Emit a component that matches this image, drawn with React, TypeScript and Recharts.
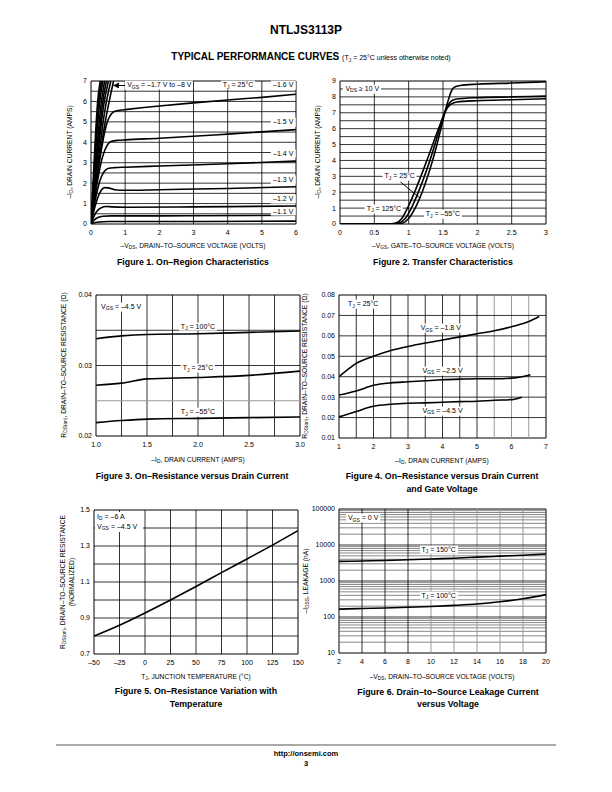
import React from 'react';
import { LineChart, Line, XAxis, YAxis, ReferenceLine, ReferenceArea } from 'recharts';

const FONT = '"Liberation Sans", Arial, Helvetica, sans-serif';

type Pt = { x: number; y: number };
interface Geo { left: number; top: number; w: number; h: number; x0: number; x1: number; y0: number; y1: number; log?: boolean }

// ---------- Figure 1: on-region characteristics
const fig1XTicks = [0, 1, 2, 3, 4, 5, 6];
const fig1YTicks = [0, 1, 2, 3, 4, 5, 6, 7];
const fig1VGrid = [1, 2, 3, 4, 5];
const fig1HGrid = [0.5, 1, 1.5, 2, 2.5, 3, 3.5, 4, 4.5, 5, 5.5, 6, 6.5];
const fig1Vgs10: Pt[] = [{ x: 0, y: 0 }, { x: 0.1, y: 0.06 }, { x: 0.25, y: 0.1 }, { x: 0.5, y: 0.12 }, { x: 2, y: 0.12 }, { x: 6, y: 0.14 }];
const fig1Vgs11: Pt[] = [{ x: 0, y: 0 }, { x: 0.1, y: 0.2 }, { x: 0.2, y: 0.32 }, { x: 0.35, y: 0.38 }, { x: 0.6, y: 0.4 }, { x: 2, y: 0.4 }, { x: 6, y: 0.43 }];
const fig1Vgs12: Pt[] = [{ x: 0, y: 0 }, { x: 0.1, y: 0.42 }, { x: 0.2, y: 0.68 }, { x: 0.3, y: 0.8 }, { x: 0.45, y: 0.86 }, { x: 0.6, y: 0.84 }, { x: 1, y: 0.82 }, { x: 3, y: 0.84 }, { x: 6, y: 0.88 }];
const fig1Vgs13: Pt[] = [{ x: 0, y: 0 }, { x: 0.1, y: 0.75 }, { x: 0.2, y: 1.3 }, { x: 0.3, y: 1.65 }, { x: 0.4, y: 1.78 }, { x: 0.5, y: 1.77 }, { x: 0.7, y: 1.68 }, { x: 1, y: 1.65 }, { x: 2, y: 1.68 }, { x: 4, y: 1.74 }, { x: 6, y: 1.82 }];
const fig1Vgs14: Pt[] = [{ x: 0, y: 0 }, { x: 0.1, y: 0.95 }, { x: 0.2, y: 1.75 }, { x: 0.3, y: 2.3 }, { x: 0.4, y: 2.6 }, { x: 0.5, y: 2.72 }, { x: 0.7, y: 2.76 }, { x: 1, y: 2.78 }, { x: 2, y: 2.84 }, { x: 4, y: 2.95 }, { x: 6, y: 3.08 }];
const fig1Vgs15: Pt[] = [{ x: 0, y: 0 }, { x: 0.1, y: 1.15 }, { x: 0.2, y: 2.2 }, { x: 0.3, y: 3.05 }, { x: 0.4, y: 3.6 }, { x: 0.5, y: 3.92 }, { x: 0.6, y: 4.05 }, { x: 0.8, y: 4.1 }, { x: 1, y: 4.12 }, { x: 2, y: 4.2 }, { x: 4, y: 4.4 }, { x: 6, y: 4.62 }];
const fig1Vgs16: Pt[] = [{ x: 0, y: 0 }, { x: 0.1, y: 1.3 }, { x: 0.2, y: 2.55 }, { x: 0.3, y: 3.6 }, { x: 0.4, y: 4.5 }, { x: 0.5, y: 5.1 }, { x: 0.6, y: 5.4 }, { x: 0.7, y: 5.52 }, { x: 0.9, y: 5.58 }, { x: 1, y: 5.6 }, { x: 2, y: 5.78 }, { x: 3, y: 5.93 }, { x: 4, y: 6.07 }, { x: 5, y: 6.2 }, { x: 6, y: 6.35 }];
const fig1Vgs17: Pt[] = [{ x: 0, y: 0 }, { x: 0.15, y: 2.0 }, { x: 0.3, y: 3.8 }, { x: 0.45, y: 5.3 }, { x: 0.66, y: 7 }];
const fig1Vgs18: Pt[] = [{ x: 0, y: 0 }, { x: 0.14, y: 2.1 }, { x: 0.27, y: 3.9 }, { x: 0.4, y: 5.5 }, { x: 0.58, y: 7 }];
const fig1Vgs20: Pt[] = [{ x: 0, y: 0 }, { x: 0.12, y: 2.1 }, { x: 0.24, y: 4.0 }, { x: 0.36, y: 5.7 }, { x: 0.51, y: 7 }];
const fig1Vgs25: Pt[] = [{ x: 0, y: 0 }, { x: 0.11, y: 2.2 }, { x: 0.22, y: 4.1 }, { x: 0.32, y: 5.7 }, { x: 0.45, y: 7 }];
const fig1Vgs30: Pt[] = [{ x: 0, y: 0 }, { x: 0.1, y: 2.2 }, { x: 0.2, y: 4.2 }, { x: 0.29, y: 5.8 }, { x: 0.4, y: 7 }];
const fig1Vgs45: Pt[] = [{ x: 0, y: 0 }, { x: 0.09, y: 2.3 }, { x: 0.17, y: 4.3 }, { x: 0.25, y: 5.9 }, { x: 0.35, y: 7 }];
const fig1Vgs60: Pt[] = [{ x: 0, y: 0 }, { x: 0.08, y: 2.3 }, { x: 0.15, y: 4.3 }, { x: 0.22, y: 5.9 }, { x: 0.31, y: 7 }];
const fig1Vgs80: Pt[] = [{ x: 0, y: 0 }, { x: 0.07, y: 2.3 }, { x: 0.13, y: 4.3 }, { x: 0.19, y: 5.9 }, { x: 0.27, y: 7 }];

// ---------- Figure 2: transfer characteristics
const fig2XTicks = [0, 0.5, 1, 1.5, 2, 2.5, 3];
const fig2YTicks = [0, 1, 2, 3, 4, 5, 6, 7, 8, 9];
const fig2VGrid = [0.5, 1, 1.5, 2, 2.5];
const fig2HGrid = [0.5, 1, 1.5, 2, 2.5, 3, 3.5, 4, 4.5, 5, 5.5, 6, 6.5, 7, 7.5, 8, 8.5];
const fig2Tj125: Pt[] = [{ x: 0, y: 0 }, { x: 0.7, y: 0 }, { x: 0.8, y: 0.04 }, { x: 0.9, y: 0.35 }, { x: 1.0, y: 1.15 }, { x: 1.1, y: 2.15 }, { x: 1.2, y: 3.25 }, { x: 1.3, y: 4.4 }, { x: 1.4, y: 5.6 }, { x: 1.47, y: 6.4 }, { x: 1.52, y: 6.95 }, { x: 1.57, y: 7.35 }, { x: 1.62, y: 7.55 }, { x: 1.7, y: 7.68 }, { x: 2.0, y: 7.76 }, { x: 2.5, y: 7.82 }, { x: 3.0, y: 7.88 }];
const fig2Tj25: Pt[] = [{ x: 0, y: 0 }, { x: 0.75, y: 0 }, { x: 0.85, y: 0.04 }, { x: 0.95, y: 0.35 }, { x: 1.05, y: 1.1 }, { x: 1.15, y: 2.1 }, { x: 1.25, y: 3.25 }, { x: 1.35, y: 4.55 }, { x: 1.45, y: 6.0 }, { x: 1.5, y: 6.7 }, { x: 1.55, y: 7.3 }, { x: 1.6, y: 7.65 }, { x: 1.68, y: 7.85 }, { x: 2.0, y: 7.95 }, { x: 2.5, y: 8.0 }, { x: 3.0, y: 8.05 }];
const fig2TjM55: Pt[] = [{ x: 0, y: 0 }, { x: 0.8, y: 0 }, { x: 0.9, y: 0.04 }, { x: 1.0, y: 0.35 }, { x: 1.1, y: 1.05 }, { x: 1.2, y: 2.05 }, { x: 1.3, y: 3.3 }, { x: 1.4, y: 4.8 }, { x: 1.47, y: 6.0 }, { x: 1.52, y: 6.9 }, { x: 1.57, y: 7.7 }, { x: 1.62, y: 8.35 }, { x: 1.66, y: 8.6 }, { x: 1.75, y: 8.72 }, { x: 2.0, y: 8.8 }, { x: 2.5, y: 8.87 }, { x: 3.0, y: 8.95 }];

// ---------- Figure 3: on-resistance vs drain current
const fig3XTicks = [1, 1.5, 2, 2.5, 3];
const fig3YTicks = [0.02, 0.03, 0.04];
const fig3VGrid = [1.25, 1.5, 1.75, 2, 2.25, 2.5, 2.75];
const fig3HGrid = [0.03, 0.035];
const fig3HGray = [0.025];
const fig3Tj100: Pt[] = [{ x: 1, y: 0.0338 }, { x: 1.25, y: 0.0342 }, { x: 1.5, y: 0.0344 }, { x: 2, y: 0.0345 }, { x: 2.5, y: 0.0347 }, { x: 3, y: 0.0349 }];
const fig3Tj25: Pt[] = [{ x: 1, y: 0.0272 }, { x: 1.25, y: 0.0275 }, { x: 1.5, y: 0.0281 }, { x: 2, y: 0.0283 }, { x: 2.5, y: 0.0286 }, { x: 3, y: 0.0292 }];
const fig3TjM55: Pt[] = [{ x: 1, y: 0.0219 }, { x: 1.25, y: 0.0222 }, { x: 1.5, y: 0.0224 }, { x: 2, y: 0.0225 }, { x: 2.5, y: 0.0226 }, { x: 3, y: 0.0227 }];

// ---------- Figure 4: on-resistance vs drain current and gate voltage
const fig4XTicks = [1, 2, 3, 4, 5, 6, 7];
const fig4YTicks = [0.01, 0.02, 0.03, 0.04, 0.05, 0.06, 0.07, 0.08];
const fig4VGrid = [1.5, 2, 2.5, 3, 3.5, 4, 4.5, 5];
const fig4VGray = [5.5, 6, 6.5];
const fig4HGrid = [0.02, 0.03, 0.04, 0.05, 0.06, 0.07];
const fig4Vgs18: Pt[] = [{ x: 1, y: 0.04 }, { x: 1.25, y: 0.0435 }, { x: 1.5, y: 0.0465 }, { x: 2, y: 0.05 }, { x: 2.5, y: 0.0528 }, { x: 3, y: 0.0548 }, { x: 3.5, y: 0.0565 }, { x: 4, y: 0.058 }, { x: 4.5, y: 0.0595 }, { x: 5, y: 0.061 }, { x: 5.5, y: 0.0625 }, { x: 6, y: 0.0645 }, { x: 6.5, y: 0.067 }, { x: 6.8, y: 0.0695 }];
const fig4Vgs25: Pt[] = [{ x: 1, y: 0.031 }, { x: 1.5, y: 0.033 }, { x: 2, y: 0.0358 }, { x: 2.5, y: 0.037 }, { x: 3, y: 0.0375 }, { x: 3.5, y: 0.038 }, { x: 4, y: 0.0385 }, { x: 4.5, y: 0.0388 }, { x: 5, y: 0.039 }, { x: 5.5, y: 0.039 }, { x: 6, y: 0.0393 }, { x: 6.3, y: 0.04 }, { x: 6.55, y: 0.041 }];
const fig4Vgs45: Pt[] = [{ x: 1, y: 0.0203 }, { x: 1.5, y: 0.023 }, { x: 2, y: 0.0255 }, { x: 2.5, y: 0.0265 }, { x: 3, y: 0.027 }, { x: 3.5, y: 0.0272 }, { x: 4, y: 0.0275 }, { x: 4.5, y: 0.0278 }, { x: 5, y: 0.028 }, { x: 5.5, y: 0.0285 }, { x: 6, y: 0.0288 }, { x: 6.3, y: 0.03 }];

// ---------- Figure 5: on-resistance vs temperature
const fig5XTicks = [-50, -25, 0, 25, 50, 75, 100, 125, 150];
const fig5YTicks = [0.7, 0.9, 1.1, 1.3, 1.5];
const fig5VGrid = [-25, 0, 25, 50, 75, 100, 125];
const fig5HGrid = [0.8, 0.9, 1.0, 1.1, 1.2, 1.3, 1.4];
const fig5Rds: Pt[] = [{ x: -50, y: 0.8 }, { x: -25, y: 0.86 }, { x: 0, y: 0.928 }, { x: 25, y: 1.0 }, { x: 50, y: 1.075 }, { x: 75, y: 1.152 }, { x: 100, y: 1.228 }, { x: 125, y: 1.305 }, { x: 150, y: 1.385 }];

// ---------- Figure 6: drain-to-source leakage
const fig6XTicks = [2, 4, 6, 8, 10, 12, 14, 16, 18, 20];
const fig6YTicks = [10, 100, 1000, 10000, 100000];
const fig6VGrid = [4, 6, 8];
const fig6VGray = [10, 12, 14, 16, 18];
const fig6Decades = [10, 100, 1000, 10000];
const fig6Mult = [2, 3, 4, 5, 6, 7, 8, 9];
const fig6HMajor = [100, 1000, 10000];
const fig6HMinor = fig6Decades.flatMap((d) => fig6Mult.map((m) => d * m));
const fig6Tj150: Pt[] = [{ x: 2, y: 3500 }, { x: 4, y: 3600 }, { x: 6, y: 3700 }, { x: 8, y: 3900 }, { x: 10, y: 4100 }, { x: 12, y: 4300 }, { x: 14, y: 4600 }, { x: 16, y: 4900 }, { x: 18, y: 5200 }, { x: 20, y: 5600 }];
const fig6Tj100: Pt[] = [{ x: 2, y: 165 }, { x: 4, y: 172 }, { x: 6, y: 178 }, { x: 8, y: 186 }, { x: 10, y: 195 }, { x: 12, y: 210 }, { x: 14, y: 230 }, { x: 16, y: 265 }, { x: 18, y: 320 }, { x: 20, y: 420 }];

const g1: Geo = { left: 91, top: 81, w: 205, h: 143, x0: 0, x1: 6, y0: 0, y1: 7 };
const g2: Geo = { left: 340, top: 81, w: 206, h: 143, x0: 0, x1: 3, y0: 0, y1: 9 };
const g3: Geo = { left: 96, top: 295, w: 204, h: 141, x0: 1, x1: 3, y0: 0.02, y1: 0.04 };
const g4: Geo = { left: 339, top: 295, w: 207, h: 143, x0: 1, x1: 7, y0: 0.01, y1: 0.08 };
const g5: Geo = { left: 94, top: 510, w: 204, h: 144, x0: -50, x1: 150, y0: 0.7, y1: 1.5 };
const g6: Geo = { left: 339, top: 509, w: 207, h: 144, x0: 2, x1: 20, y0: 10, y1: 100000, log: true };

const CAP = 8.8;
const AX = 6.7;

const dash = (v: number) => (v < 0 ? '\u2013' + Math.abs(v) : String(v));

function px(g: Geo, x: number, y: number) {
  const left = g.left + ((x - g.x0) / (g.x1 - g.x0)) * g.w;
  const t = g.log
    ? (Math.log10(g.y1) - Math.log10(y)) / (Math.log10(g.y1) - Math.log10(g.y0))
    : (g.y1 - y) / (g.y1 - g.y0);
  return { left, top: g.top + t * g.h };
}

const Sub = ({ c }: { c: string }) => (
  <span style={{ fontSize: '0.72em', position: 'relative', top: '0.3em' }}>{c}</span>
);

function Note({ g, x, y, anchor = 'start', children, size = 7 }: { g: Geo; x: number; y: number; anchor?: string; children: React.ReactNode; size?: number }) {
  const p = px(g, x, y);
  const tx = anchor === 'start' ? 0 : anchor === 'end' ? -100 : -50;
  return (
    <div style={{ position: 'absolute', left: p.left, top: p.top, transform: `translate(${tx}%, -50%)`, fontSize: size, lineHeight: 1.25, whiteSpace: 'nowrap', background: '#fff', padding: '0 2px' }}>
      {children}
    </div>
  );
}

function Txt({ x, y, size = AX, bold, children }: { x: number; y: number; size?: number; bold?: boolean; children: React.ReactNode }) {
  return (
    <div style={{ position: 'absolute', left: x, top: y, transform: 'translate(-50%, -50%)', fontSize: size, fontWeight: bold ? 700 : 400, whiteSpace: 'nowrap', lineHeight: 1.2, textAlign: 'center' }}>
      {children}
    </div>
  );
}

function VTxt({ x, y, size = AX, children }: { x: number; y: number; size?: number; children: React.ReactNode }) {
  return (
    <div style={{ position: 'absolute', left: x, top: y, transform: 'translate(-50%, -50%) rotate(-90deg)', fontSize: size, whiteSpace: 'nowrap', lineHeight: 1.2, textAlign: 'center' }}>
      {children}
    </div>
  );
}

interface PanelProps {
  g: Geo;
  xTicks: number[];
  yTicks: number[];
  xFmt?: (v: number) => string;
  yFmt?: (v: number) => string;
  vGrid: number[];
  hGrid: number[];
  vGray?: number[];
  hGray?: number[];
  hMinor?: number[];
  curves: Pt[][];
  extra?: React.ReactNode;
}

function Panel({ g, xTicks, yTicks, xFmt, yFmt, vGrid, hGrid, vGray = [], hGray = [], hMinor = [], curves, extra }: PanelProps) {
  const ML = 50, MT = 6, MR = 6, MB = 16;
  const tick = { fontSize: 7, fill: '#000' };
  return (
    <div style={{ position: 'absolute', left: g.left - ML, top: g.top - MT }}>
      <LineChart width={g.w + ML + MR} height={g.h + MT + MB} margin={{ top: MT, right: MR, left: 0, bottom: 0 }}>
        <defs>
          <marker id="arrowHead" viewBox="0 0 10 10" refX="9" refY="5" markerWidth="6" markerHeight="6" orient="auto-start-reverse">
            <path d="M0,0 L10,5 L0,10 z" fill="#000" />
          </marker>
        </defs>
        <XAxis type="number" dataKey="x" domain={[g.x0, g.x1]} ticks={xTicks} tickFormatter={xFmt} interval={0}
          axisLine={false} tickLine={false} tickSize={4} tickMargin={2} height={MB} tick={tick} allowDataOverflow />
        <YAxis type="number" dataKey="y" scale={g.log ? 'log' : 'linear'} domain={[g.y0, g.y1]} ticks={yTicks} tickFormatter={yFmt} interval={0}
          axisLine={false} tickLine={false} tickSize={3} tickMargin={1} width={ML} tick={tick} allowDataOverflow />
        {hMinor.map((v) => <ReferenceLine key={'m' + v} y={v} stroke="#555" strokeWidth={0.7} />)}
        {vGrid.map((v) => <ReferenceLine key={'v' + v} x={v} stroke="#000" strokeWidth={0.8} />)}
        {vGray.map((v) => <ReferenceLine key={'vg' + v} x={v} stroke="#999" strokeWidth={1} />)}
        {hGrid.map((v) => <ReferenceLine key={'h' + v} y={v} stroke="#000" strokeWidth={0.8} />)}
        {hGray.map((v) => <ReferenceLine key={'hg' + v} y={v} stroke="#999" strokeWidth={1} />)}
        <ReferenceArea x1={g.x0} x2={g.x1} y1={g.y0} y2={g.y1} fill="none" stroke="#000" strokeWidth={1} fillOpacity={0} />
        {curves.map((c, i) => (
          <Line key={i} data={c} dataKey="y" type="monotone" stroke="#000" strokeWidth={1.6} dot={false} isAnimationActive={false} />
        ))}
        {extra}
      </LineChart>
    </div>
  );
}

export default function App() {
  return (
    <div style={{ position: 'absolute', left: 0, top: 0, width: 612, height: 792, background: '#fff', fontFamily: FONT, color: '#000', overflow: 'hidden' }}>
      <Txt x={306} y={30} size={12} bold>NTLJS3113P</Txt>
      <Txt x={311} y={57} size={10} bold>
        TYPICAL PERFORMANCE CURVES <span style={{ fontSize: 7, fontWeight: 400 }}>(T<Sub c="J" /> = 25°C unless otherwise noted)</span>
      </Txt>

      {/* Figure 1 */}
      <Panel g={g1} xTicks={fig1XTicks} yTicks={fig1YTicks} vGrid={fig1VGrid} hGrid={fig1HGrid}
        curves={[fig1Vgs10, fig1Vgs11, fig1Vgs12, fig1Vgs13, fig1Vgs14, fig1Vgs15, fig1Vgs16, fig1Vgs17, fig1Vgs18, fig1Vgs20, fig1Vgs25, fig1Vgs30, fig1Vgs45, fig1Vgs60, fig1Vgs80]}
        extra={<ReferenceLine segment={[{ x: 1.0, y: 6.78 }, { x: 0.66, y: 6.78 }]} stroke="#000" strokeWidth={1} markerEnd="url(#arrowHead)" />} />
      <Note g={g1} x={1.0} y={6.78}>V<Sub c="GS" /> = –1.7 V to –8 V</Note>
      <Note g={g1} x={3.8} y={6.78}>T<Sub c="J" /> = 25°C</Note>
      <Note g={g1} x={5.98} y={6.78} anchor="end">–1.6 V</Note>
      <Note g={g1} x={5.98} y={5.0} anchor="end">–1.5 V</Note>
      <Note g={g1} x={5.98} y={3.45} anchor="end">–1.4 V</Note>
      <Note g={g1} x={5.98} y={2.15} anchor="end">–1.3 V</Note>
      <Note g={g1} x={5.98} y={1.2} anchor="end">–1.2 V</Note>
      <Note g={g1} x={5.98} y={0.6} anchor="end">–1.1 V</Note>
      <VTxt x={70} y={152}>–I<Sub c="D" />, DRAIN CURRENT (AMPS)</VTxt>
      <Txt x={193} y={246}>–V<Sub c="DS" />, DRAIN–TO–SOURCE VOLTAGE (VOLTS)</Txt>
      <Txt x={193} y={262} size={CAP} bold>Figure 1. On–Region Characteristics</Txt>

      {/* Figure 2 */}
      <Panel g={g2} xTicks={fig2XTicks} yTicks={fig2YTicks} vGrid={fig2VGrid} hGrid={fig2HGrid}
        curves={[fig2Tj125, fig2Tj25, fig2TjM55]}
        extra={<ReferenceLine segment={[{ x: 0.88, y: 2.65 }, { x: 1.16, y: 1.65 }]} stroke="#000" strokeWidth={1} />} />
      <Note g={g2} x={0.05} y={8.5}>V<Sub c="DS" /> ≥ 10 V</Note>
      <Note g={g2} x={1.12} y={3.0} anchor="end">T<Sub c="J" /> = 25°C</Note>
      <Note g={g2} x={0.92} y={0.95} anchor="end">T<Sub c="J" /> = 125°C</Note>
      <Note g={g2} x={1.22} y={0.6}>T<Sub c="J" /> = –55°C</Note>
      <VTxt x={318} y={152}>–I<Sub c="D" />, DRAIN CURRENT (AMPS)</VTxt>
      <Txt x={443} y={246}>–V<Sub c="GS" />, GATE–TO–SOURCE VOLTAGE (VOLTS)</Txt>
      <Txt x={443} y={262} size={CAP} bold>Figure 2. Transfer Characteristics</Txt>

      {/* Figure 3 */}
      <Panel g={g3} xTicks={fig3XTicks} yTicks={fig3YTicks} xFmt={(v) => v.toFixed(1)} yFmt={(v) => v.toFixed(2)}
        vGrid={fig3VGrid} hGrid={fig3HGrid} hGray={fig3HGray} curves={[fig3Tj100, fig3Tj25, fig3TjM55]} />
      <Note g={g3} x={1.03} y={0.0383}>V<Sub c="GS" /> = –4.5 V</Note>
      <Note g={g3} x={2.0} y={0.0355} anchor="middle">T<Sub c="J" /> = 100°C</Note>
      <Note g={g3} x={2.0} y={0.0296} anchor="middle">T<Sub c="J" /> = 25°C</Note>
      <Note g={g3} x={2.0} y={0.0234} anchor="middle">T<Sub c="J" /> = –55°C</Note>
      <VTxt x={64} y={365}>R<Sub c="DS(on)" />, DRAIN–TO–SOURCE RESISTANCE (Ω)</VTxt>
      <Txt x={198} y={460}>–I<Sub c="D" />, DRAIN CURRENT (AMPS)</Txt>
      <Txt x={192} y={476} size={CAP} bold>Figure 3. On–Resistance versus Drain Current</Txt>

      {/* Figure 4 */}
      <Panel g={g4} xTicks={fig4XTicks} yTicks={fig4YTicks} yFmt={(v) => v.toFixed(2)}
        vGrid={fig4VGrid} vGray={fig4VGray} hGrid={fig4HGrid} curves={[fig4Vgs18, fig4Vgs25, fig4Vgs45]} />
      <Note g={g4} x={1.2} y={0.0755}>T<Sub c="J" /> = 25°C</Note>
      <Note g={g4} x={3.95} y={0.0637} anchor="middle">V<Sub c="GS" /> = –1.8 V</Note>
      <Note g={g4} x={4.0} y={0.0429} anchor="middle">V<Sub c="GS" /> = –2.5 V</Note>
      <Note g={g4} x={4.0} y={0.0233} anchor="middle">V<Sub c="GS" /> = –4.5 V</Note>
      <VTxt x={305} y={366}>R<Sub c="DS(on)" />, DRAIN–TO–SOURCE RESISTANCE (Ω)</VTxt>
      <Txt x={442} y={461}>–I<Sub c="D" />, DRAIN CURRENT (AMPS)</Txt>
      <Txt x={442} y={476} size={CAP} bold>Figure 4. On–Resistance versus Drain Current</Txt>
      <Txt x={442} y={489} size={CAP} bold>and Gate Voltage</Txt>

      {/* Figure 5 */}
      <Panel g={g5} xTicks={fig5XTicks} yTicks={fig5YTicks} xFmt={dash} yFmt={(v) => v.toFixed(1)}
        vGrid={fig5VGrid} hGrid={fig5HGrid} curves={[fig5Rds]} />
      <div style={{ position: 'absolute', left: px(g5, -49, 1.49).left, top: px(g5, -49, 1.49).top, background: '#fff', fontSize: 7, lineHeight: 1.4, padding: '0 6px 1px 2px' }}>
        <div>I<Sub c="D" /> = –6 A</div>
        <div>V<Sub c="GS" /> = –4.5 V</div>
      </div>
      <VTxt x={63} y={582}>R<Sub c="DS(on)" />, DRAIN–TO–SOURCE RESISTANCE</VTxt>
      <VTxt x={72} y={582}>(NORMALIZED)</VTxt>
      <Txt x={196} y={677}>T<Sub c="J" />, JUNCTION TEMPERATURE (°C)</Txt>
      <Txt x={196} y={691} size={CAP} bold>Figure 5. On–Resistance Variation with</Txt>
      <Txt x={196} y={704} size={CAP} bold>Temperature</Txt>

      {/* Figure 6 */}
      <Panel g={g6} xTicks={fig6XTicks} yTicks={fig6YTicks} vGrid={fig6VGrid} vGray={fig6VGray} hGrid={fig6HMajor} hMinor={fig6HMinor}
        curves={[fig6Tj150, fig6Tj100]} />
      <Note g={g6} x={2.6} y={56000}>V<Sub c="GS" /> = 0 V</Note>
      <Note g={g6} x={9.0} y={7400}>T<Sub c="J" /> = 150°C</Note>
      <Note g={g6} x={9.0} y={390}>T<Sub c="J" /> = 100°C</Note>
      <VTxt x={306} y={581}>–I<Sub c="DSS" />, LEAKAGE (nA)</VTxt>
      <Txt x={442} y={677}>–V<Sub c="DS" />, DRAIN–TO–SOURCE VOLTAGE (VOLTS)</Txt>
      <Txt x={448} y={692} size={CAP} bold>Figure 6. Drain–to–Source Leakage Current</Txt>
      <Txt x={448} y={704} size={CAP} bold>versus Voltage</Txt>

      <div style={{ position: 'absolute', left: 56, top: 744, width: 500, height: 2, background: '#aaa' }} />
      <Txt x={306} y={753} size={7.5} bold>http://onsemi.com</Txt>
      <Txt x={306} y={763} size={7.5} bold>3</Txt>
    </div>
  );
}
